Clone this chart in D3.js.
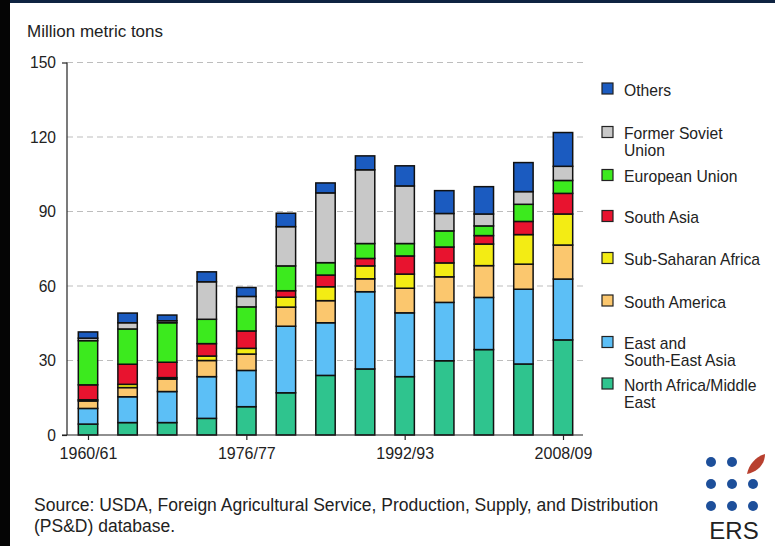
<!DOCTYPE html>
<html>
<head>
<meta charset="utf-8">
<script src="https://cdn.jsdelivr.net/npm/d3@7"></script>
<style>
  html, body { margin: 0; padding: 0; background: #fff; }
  svg { display: block; }
  text { font-family: "Liberation Sans", Arial, sans-serif; fill: #222; }
</style>
</head>
<body>
<svg id="chart" width="775" height="546"></svg>
<script>
// Marketing years shown on the x axis (every fourth year)
const seasons = ["1960/61","1964/65","1968/69","1972/73","1976/77","1980/81","1984/85",
                 "1988/89","1992/93","1996/97","2000/01","2004/05","2008/09"];
const seasonTickLabels = ["1960/61","1976/77","1992/93","2008/09"];
const valueTicks = [0, 30, 60, 90, 120, 150];

// Wheat imports by region, million metric tons (stacked bottom to top)
const northAfricaMiddleEast = [4.4, 5.0, 5.0, 6.7, 11.4, 17.0, 24.0, 26.6, 23.5, 29.9, 34.4, 28.6, 38.3];
const eastSouthEastAsia     = [6.3, 10.4, 12.5, 16.8, 14.6, 26.8, 21.2, 31.1, 25.7, 23.5, 21.0, 30.1, 24.5];
const southAmerica          = [3.0, 3.7, 5.0, 6.5, 6.6, 7.7, 8.9, 5.2, 9.9, 10.3, 12.8, 10.1, 13.7];
const subSaharanAfrica      = [0.5, 1.3, 0.6, 1.8, 2.3, 4.0, 5.6, 5.2, 5.7, 5.6, 8.7, 11.9, 12.5];
const southAsia             = [6.0, 8.1, 6.2, 5.0, 7.0, 2.6, 4.7, 3.0, 7.3, 6.4, 3.4, 5.3, 8.3];
const europeanUnion         = [17.8, 14.2, 15.9, 9.8, 9.7, 10.0, 5.0, 6.0, 5.0, 6.5, 3.9, 6.9, 5.2];
const formerSovietUnion     = [1.0, 2.5, 0.8, 15.1, 4.2, 15.8, 28.1, 29.7, 23.2, 7.0, 4.8, 5.1, 5.7];
const others                = [2.5, 3.9, 2.3, 4.0, 3.6, 5.4, 4.0, 5.6, 8.1, 9.2, 11.0, 11.7, 13.6];

const seriesKeys   = ["nafme", "esea", "sam", "ssa", "sasia", "eu", "fsu", "oth"];
const seriesNames  = [["North Africa/Middle", "East"], ["East and", "South-East Asia"], ["South America"],
                      ["Sub-Saharan Africa"], ["South Asia"], ["European Union"], ["Former Soviet", "Union"], ["Others"]];
const seriesValues = [northAfricaMiddleEast, eastSouthEastAsia, southAmerica, subSaharanAfrica,
                      southAsia, europeanUnion, formerSovietUnion, others];
const seriesColors = ["#2fc48e", "#5cbff6", "#fbc76e", "#f3ec14", "#e8132f", "#3cea1e", "#c8c8c8", "#1b5bc0"];

// Table for d3.stack
const table = seasons.map((s, i) => {
  const row = { season: s };
  seriesKeys.forEach((k, j) => { row[k] = seriesValues[j][i]; });
  return row;
});
const stacked = d3.stack().keys(seriesKeys)(table);

const svg = d3.select("#chart");

// Page frame
svg.append("rect").attr("x", 0).attr("y", 0).attr("width", 775).attr("height", 546).attr("fill", "#fff");
svg.append("rect").attr("x", 0).attr("y", 0).attr("width", 775).attr("height", 3).attr("fill", "#0e2341");
svg.append("rect").attr("x", 0).attr("y", 0).attr("width", 10).attr("height", 546).attr("fill", "#050505");

const plotLeft = 67, plotRight = 583, plotTop = 62.5, plotBottom = 435;

const x = d3.scalePoint().domain(seasons).range([88, 563]);
const barWidth = x.step() * 0.49;
const y = d3.scaleLinear().domain([0, 150]).range([plotBottom, plotTop]);

// Dashed gridlines
svg.append("g")
  .selectAll("line")
  .data(valueTicks.filter(v => v > 0))
  .join("line")
  .attr("x1", plotLeft).attr("x2", plotRight)
  .attr("y1", d => y(d)).attr("y2", d => y(d))
  .attr("stroke", "#bdbdbd").attr("stroke-width", 1)
  .attr("stroke-dasharray", "6,4");

// Stacked bars
svg.append("g")
  .selectAll("g")
  .data(stacked)
  .join("g")
  .attr("fill", (d, i) => seriesColors[i])
  .selectAll("rect")
  .data(d => d)
  .join("rect")
  .attr("x", d => x(d.data.season) - barWidth / 2)
  .attr("y", d => y(d[1]))
  .attr("width", barWidth)
  .attr("height", d => y(d[0]) - y(d[1]))
  .attr("stroke", "#111")
  .attr("stroke-width", 1.5);

// Y axis
const yAxis = d3.axisLeft(y).tickValues(valueTicks).tickSize(0).tickPadding(11);
const gy = svg.append("g").attr("transform", `translate(${plotLeft},0)`).call(yAxis);
gy.select(".domain").attr("stroke", "#222").attr("stroke-width", 1.2).attr("d", `M0,${plotTop}V${plotBottom}`);
gy.selectAll(".tick text").attr("font-size", 15.6).attr("fill", "#333")
  .attr("font-family", "Liberation Sans, Arial, sans-serif");
gy.selectAll(".tick").filter(d => d === 0 || d === 150)
  .append("line").attr("x1", -5).attr("x2", 0).attr("stroke", "#222").attr("stroke-width", 1.2);

// X axis
const xAxis = d3.axisBottom(x).tickValues(seasonTickLabels).tickSize(5).tickPadding(8);
const gx = svg.append("g").attr("transform", `translate(0,${plotBottom})`).call(xAxis);
gx.select(".domain").attr("stroke", "#222").attr("stroke-width", 1.2).attr("d", `M${plotLeft - 5},0H${plotRight}`);
gx.selectAll(".tick line").attr("stroke", "#222").attr("stroke-width", 1.2);
gx.selectAll(".tick text").attr("font-size", 16).attr("fill", "#333")
  .attr("font-family", "Liberation Sans, Arial, sans-serif");

// Unit label
svg.append("text").attr("x", 27).attr("y", 37).attr("font-size", 17).text("Million metric tons");

// Legend (top to bottom: Others ... North Africa/Middle East)
const legendY = [88.5, 132, 175, 216, 258, 300.5, 342, 383.5];
const legend = svg.append("g");
const legendOrder = d3.range(seriesKeys.length).reverse();
legendOrder.forEach((si, row) => {
  const cy = legendY[row];
  legend.append("rect")
    .attr("x", 602).attr("y", cy - 5.5).attr("width", 11).attr("height", 11)
    .attr("fill", seriesColors[si]).attr("stroke", "#222").attr("stroke-width", 1.2);
  const lines = seriesNames[si];
  lines.forEach((ln, k) => {
    legend.append("text")
      .attr("x", 624).attr("y", cy + 2 + k * 17)
      .attr("dy", "0.32em")
      .attr("font-size", 15.7).attr("fill", "#333")
      .text(ln);
  });
});

// Source note
const note = svg.append("text").attr("font-size", 17.5).attr("fill", "#333");
note.append("tspan").attr("x", 34).attr("y", 511)
  .text("Source: USDA, Foreign Agricultural Service, Production, Supply, and Distribution");
note.append("tspan").attr("x", 34).attr("y", 532).text("(PS&D) database.");

// ERS logo: grid of dots with a leaf, wordmark below
const logo = svg.append("g");
const dotX = [711, 732, 753], dotY = [462, 484, 506];
dotY.forEach((cy, r) => dotX.forEach((cx, c) => {
  if (r === 0 && c === 2) return;
  logo.append("circle").attr("cx", cx).attr("cy", cy).attr("r", 5).attr("fill", "#1d4f9a");
}));
logo.append("path")
  .attr("d", "M747,474 C749,464 756,457 765,454 C765,464 758,472 747,474 Z")
  .attr("fill", "#b8402f");
logo.append("text").attr("x", 734).attr("y", 539).attr("text-anchor", "middle")
  .attr("font-size", 24).attr("fill", "#a8474a").text("ERS");
</script>
</body>
</html>
